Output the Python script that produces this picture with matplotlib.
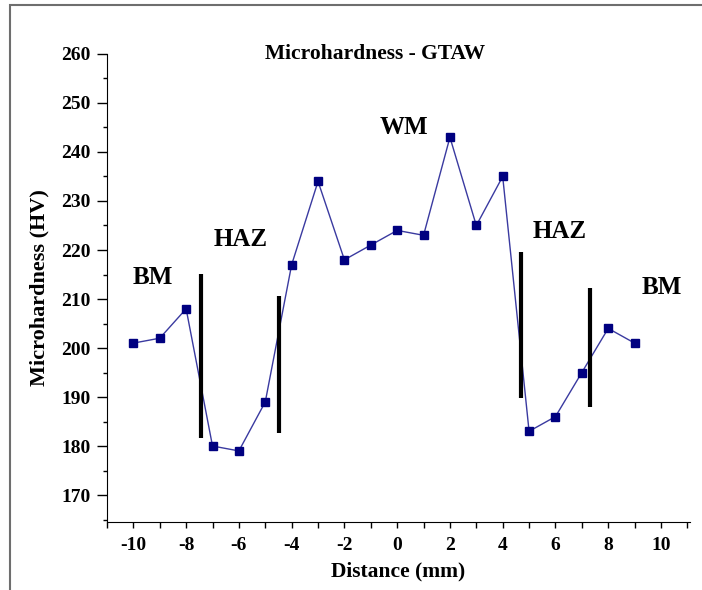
import matplotlib
matplotlib.use("Agg")
import matplotlib.pyplot as plt
from matplotlib.ticker import MultipleLocator
from matplotlib.patches import Rectangle

# hardness profile across the weld
distance = [-10, -9, -8, -7, -6, -5, -4, -3, -2, -1, 0, 1, 2, 3, 4, 5, 6, 7, 8, 9]
hardness = [201, 202, 208, 180, 179, 189, 217, 234, 218, 221,
            224, 223, 243, 225, 235, 183, 186, 195, 204, 201]

# zone boundary markers (x, y bottom, y top)
boundary_x = [-7.42, -4.47, 4.70, 7.31]
boundary_lo = [181.6, 182.7, 189.9, 188.0]
boundary_hi = [215.1, 210.6, 219.5, 212.3]

# zone labels
zone_names = ["BM", "HAZ", "WM", "HAZ", "BM"]
zone_x = [-9.25, -5.95, 0.27, 6.17, 10.04]
zone_y = [214.3, 222.2, 244.9, 223.7, 212.4]

plt.rcParams['font.family'] = ['Liberation Serif', 'DejaVu Serif']
plt.rcParams['font.weight'] = 'bold'
plt.rcParams['axes.unicode_minus'] = False

fig = plt.figure(figsize=(7.02, 5.90), dpi=100)
ax = fig.add_axes([0.1524, 0.1153, 0.8305, 0.7932])

# gray frame around the figure (cropped on right/bottom)
fig.patches.append(Rectangle((10 / 702, -0.1), 1.2, (585 / 590) + 0.1,
                             transform=fig.transFigure, fill=False,
                             edgecolor='#6e6e6e', linewidth=1.5))

ax.plot(distance, hardness, color='#3a3aa0', linewidth=1.0,
        marker='s', markersize=6, markerfacecolor='#000080',
        markeredgecolor='#000080')

ax.vlines(boundary_x, boundary_lo, boundary_hi, color='black', linewidth=3)

for name, zx, zy in zip(zone_names, zone_x, zone_y):
    ax.text(zx, zy, name, ha='center', va='center', fontsize=18, fontweight='bold')

ax.text(-0.83, 260, "Microhardness - GTAW", ha='center', va='center',
        fontsize=15.5, fontweight='bold')

ax.set_xlim(-11, 11.1)
ax.set_ylim(164.5, 260)
ax.xaxis.set_major_locator(MultipleLocator(2))
ax.xaxis.set_minor_locator(MultipleLocator(1))
ax.yaxis.set_major_locator(MultipleLocator(10))
ax.yaxis.set_minor_locator(MultipleLocator(5))
ax.set_yticks(range(170, 261, 10))

ax.spines['top'].set_visible(False)
ax.spines['right'].set_visible(False)
ax.tick_params(axis='x', which='both', direction='out', length=4, width=1,
               labelsize=14, pad=7)
ax.tick_params(axis='y', which='major', direction='out', length=7, width=1,
               labelsize=14, pad=5)
ax.tick_params(axis='y', which='minor', direction='out', length=3, width=1)

ax.set_xlabel("Distance (mm)", fontsize=15.5, fontweight='bold', labelpad=5)
ax.set_ylabel("Microhardness (HV)", fontsize=16, fontweight='bold', labelpad=8)

fig.savefig("out.png", dpi=100)
